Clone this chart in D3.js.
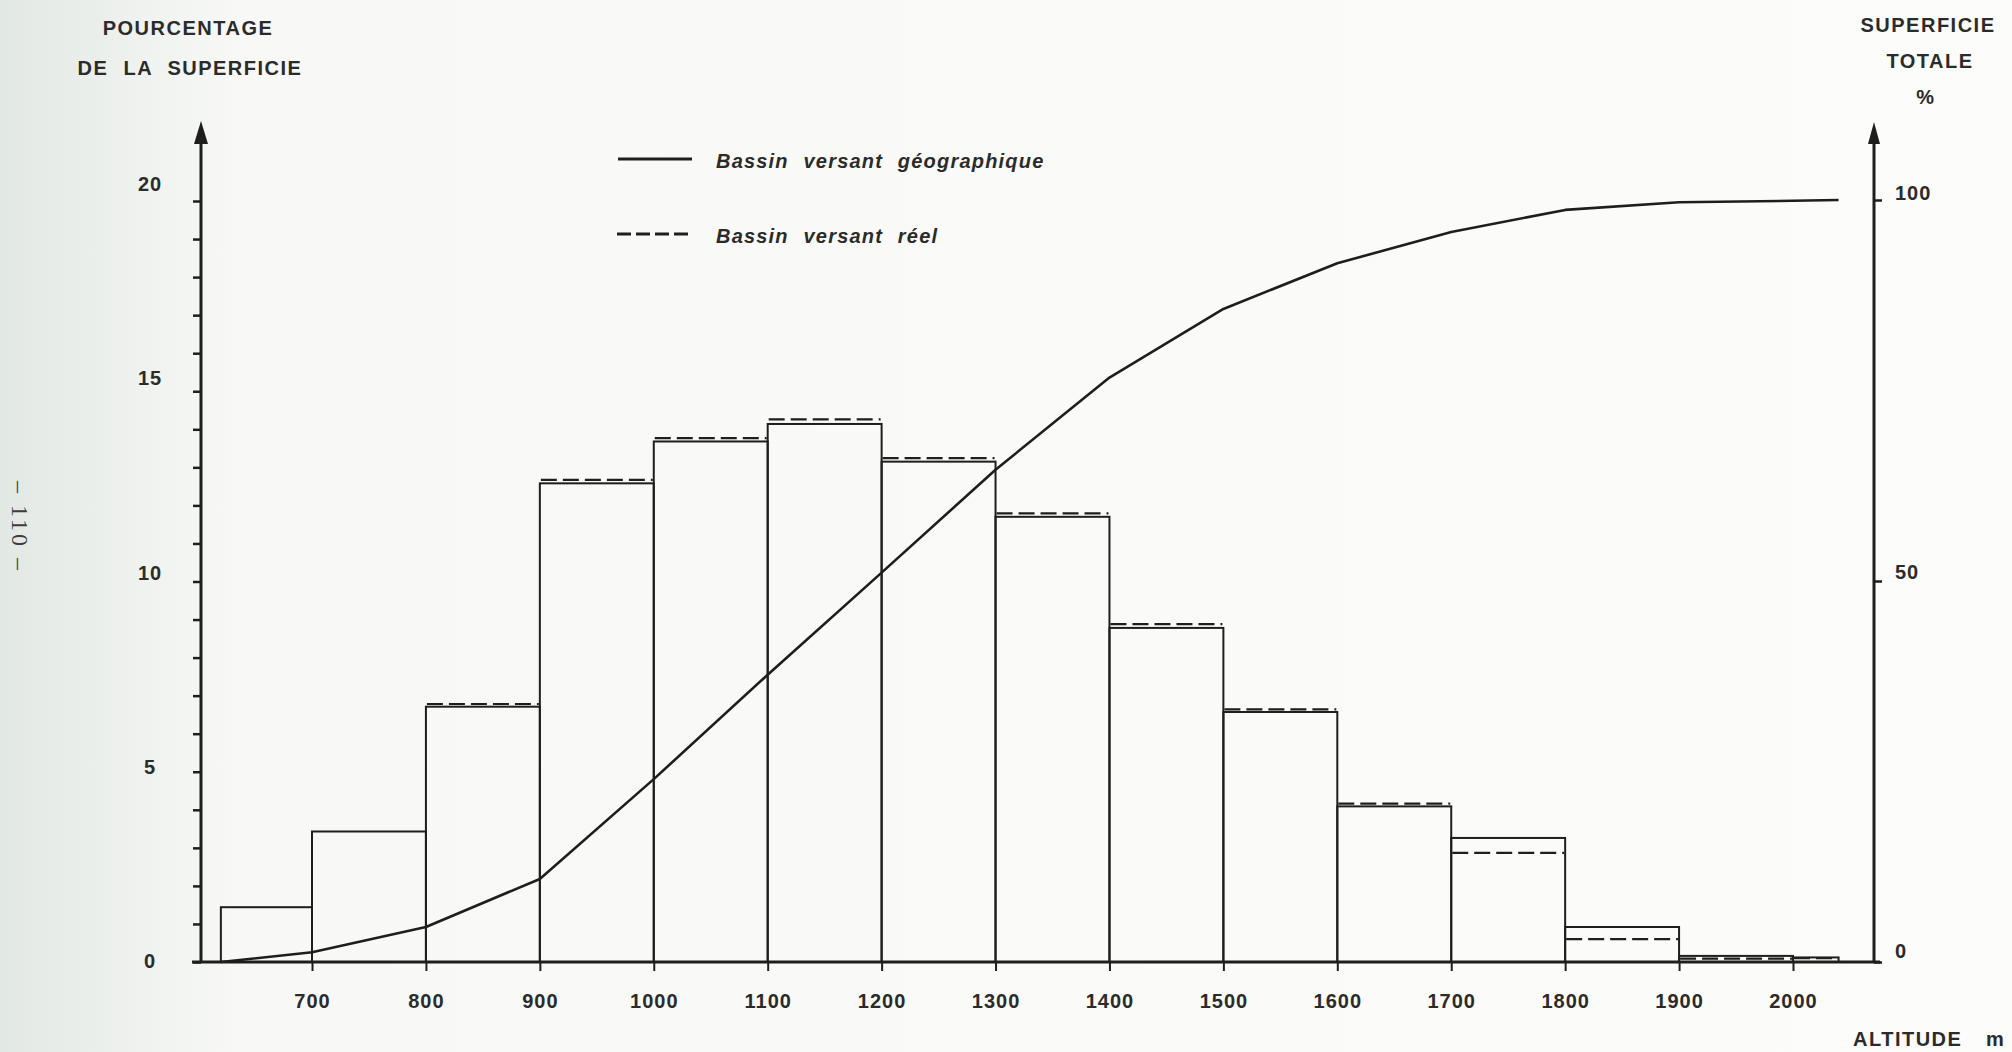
<!DOCTYPE html>
<html><head><meta charset="utf-8">
<script src="https://cdn.jsdelivr.net/npm/d3@7"></script>
<style>
html,body{margin:0;padding:0;background:#fbfbf9;}
svg{display:block;}
text{font-family:'Liberation Sans',Arial,sans-serif;font-weight:bold;fill:#2b2b2b;}
</style></head><body>
<svg id="chart" width="2012" height="1052"></svg>
<script>
// ---- data ----
const binStarts = [620, 700, 800, 900, 1000, 1100, 1200, 1300, 1400, 1500, 1600, 1700, 1800, 1900, 2000];
const binEnds   = [700, 800, 900, 1000, 1100, 1200, 1300, 1400, 1500, 1600, 1700, 1800, 1900, 2000, 2040];
const geoPct  = [1.44, 3.43, 6.71, 12.58, 13.68, 14.14, 13.15, 11.70, 8.78, 6.57, 4.09, 3.26, 0.92, 0.16, 0.12];
const reelPct = [1.44, 3.43, 6.78, 12.67, 13.77, 14.26, 13.24, 11.79, 8.88, 6.64, 4.16, 2.87, 0.60, 0.09, 0.10];
const cumAlt = [620, 700, 800, 900, 1000, 1100, 1200, 1300, 1400, 1500, 1600, 1700, 1800, 1900, 2000, 2040];
const cumPct = [0, 1.28, 4.6, 10.9, 24.0, 37.7, 51.1, 64.6, 76.7, 85.7, 91.7, 95.8, 98.7, 99.7, 99.9, 100];
const xTicks = [700, 800, 900, 1000, 1100, 1200, 1300, 1400, 1500, 1600, 1700, 1800, 1900, 2000];
const yLeftTicks = [0, 5, 10, 15, 20];
const yRightTicks = [0, 50, 100];
const legendLabels = ["Bassin versant géographique", "Bassin versant réel"];

// ---- scales ----
const x = d3.scaleLinear().domain([700, 2000]).range([312, 1793]);
const yL = d3.scaleLinear().domain([0, 20]).range([962, 201]);
const yR = d3.scaleLinear().domain([0, 100]).range([962, 200]);
const yLlab = d3.scaleLinear().domain([0, 20]).range([961, 184]);
const yRlab = d3.scaleLinear().domain([0, 100]).range([951, 193]);

const ink = "#1e1e1e";
const svg = d3.select("#chart");

// background shading of scanned page
const defs = svg.append("defs");
const g0 = defs.append("linearGradient").attr("id", "bg").attr("x1", "0").attr("x2", "1").attr("y1", "0").attr("y2", "0");
g0.append("stop").attr("offset", "0").attr("stop-color", "#e2e8e3");
g0.append("stop").attr("offset", "0.12").attr("stop-color", "#f8f9f7");
g0.append("stop").attr("offset", "1").attr("stop-color", "#fcfcfa");
svg.append("rect").attr("width", 2012).attr("height", 1052).attr("fill", "url(#bg)");

// page number
svg.append("text").attr("transform", "translate(12,527) rotate(90)")
  .attr("text-anchor", "middle")
  .style("font-family", "'Liberation Serif','DejaVu Serif',serif").style("font-weight", "normal")
  .style("font-size", "24px").style("fill", "#3c3c3c").style("letter-spacing", "3px")
  .text("– 110 –");

// bars (geographic, solid)
const bins = binStarts.map((s, i) => ({s, e: binEnds[i], g: geoPct[i], r: reelPct[i]}));
svg.append("g").selectAll("rect").data(bins).join("rect")
  .attr("x", d => x(d.s)).attr("width", d => x(d.e) - x(d.s))
  .attr("y", d => yL(d.g)).attr("height", d => yL(0) - yL(d.g))
  .attr("fill", "none").attr("stroke", ink).attr("stroke-width", 2);

// dashed tops (réel), only where they differ from the solid tops
svg.append("g").selectAll("line").data(bins.filter(d => d.r !== d.g)).join("line")
  .attr("x1", d => x(d.s) + 1).attr("x2", d => x(d.e) - 1)
  .attr("y1", d => yL(d.r)).attr("y2", d => yL(d.r))
  .attr("stroke", ink).attr("stroke-width", 2.2).attr("stroke-dasharray", "16,6");

// cumulative curve
const cum = cumAlt.map((a, i) => ({a, p: cumPct[i]}));
svg.append("path").datum(cum)
  .attr("d", d3.line().x(d => x(d.a)).y(d => yR(d.p)))
  .attr("fill", "none").attr("stroke", ink).attr("stroke-width", 2.6).attr("stroke-linejoin", "round");

// x axis
svg.append("line").attr("x1", 192).attr("x2", 1880).attr("y1", 962).attr("y2", 962)
  .attr("stroke", ink).attr("stroke-width", 3);
const xa = svg.append("g").attr("transform", "translate(0,962)")
  .call(d3.axisBottom(x).tickValues(xTicks).tickSize(9).tickFormat(d3.format("d")));
xa.select(".domain").remove();
xa.selectAll(".tick line").attr("stroke", ink).attr("stroke-width", 2);
xa.selectAll(".tick text").attr("y", 39).attr("dy", "0.35em")
  .style("font-size", "20px").style("letter-spacing", "1px").style("fill", "#2b2b2b")
  .style("font-family", "'Liberation Sans',Arial,sans-serif").style("font-weight", "bold");

// left axis
svg.append("line").attr("x1", 201).attr("x2", 201).attr("y1", 963).attr("y2", 135)
  .attr("stroke", ink).attr("stroke-width", 3);
svg.append("path").attr("d", "M201,121 L194,144 L208,144 Z").attr("fill", ink);
const la = svg.append("g").attr("transform", "translate(201,0)")
  .call(d3.axisLeft(yL).tickValues(d3.range(0, 21)).tickSize(8).tickFormat(""));
la.select(".domain").remove();
la.selectAll(".tick line").attr("stroke", ink).attr("stroke-width", 2.5);
svg.append("g").selectAll("text").data(yLeftTicks).join("text")
  .attr("x", 150).attr("y", d => yLlab(d)).attr("dy", "0.35em").attr("text-anchor", "middle")
  .style("font-size", "20px").style("letter-spacing", "1px").text(d => d);

// right axis
svg.append("line").attr("x1", 1874).attr("x2", 1874).attr("y1", 963).attr("y2", 135)
  .attr("stroke", ink).attr("stroke-width", 3);
svg.append("path").attr("d", "M1874,122 L1868,144 L1880,144 Z").attr("fill", ink);
const ra = svg.append("g").attr("transform", "translate(1874,0)")
  .call(d3.axisRight(yR).tickValues(yRightTicks).tickSize(8).tickFormat(""));
ra.select(".domain").remove();
ra.selectAll(".tick line").attr("stroke", ink).attr("stroke-width", 2.5);
svg.append("g").selectAll("text").data(yRightTicks).join("text")
  .attr("x", 1895).attr("y", d => yRlab(d)).attr("dy", "0.35em").attr("text-anchor", "start")
  .style("font-size", "20px").style("letter-spacing", "1px").text(d => d);

// axis titles
const title = (t, cx, cy, anchor) => svg.append("text").attr("x", cx).attr("y", cy).attr("dy", "0.35em")
  .attr("text-anchor", anchor || "middle").style("font-size", "20px").style("letter-spacing", "1.5px")
  .style("word-spacing", "8px").text(t);
title("POURCENTAGE", 188, 28);
title("DE LA SUPERFICIE", 190, 68);
title("SUPERFICIE", 1928, 25);
title("TOTALE", 1930, 61);
title("%", 1926, 97);
title("ALTITUDE", 1853, 1039, "start");
title("m", 1986, 1039, "start");

// legend
const leg = svg.append("g");
leg.append("line").attr("x1", 618).attr("x2", 692).attr("y1", 159).attr("y2", 159)
  .attr("stroke", ink).attr("stroke-width", 3);
leg.append("line").attr("x1", 617).attr("x2", 692).attr("y1", 234).attr("y2", 234)
  .attr("stroke", ink).attr("stroke-width", 3).attr("stroke-dasharray", "14,5");
leg.selectAll("text").data(legendLabels).join("text")
  .attr("x", 716).attr("y", (d, i) => i === 0 ? 161 : 236).attr("dy", "0.35em")
  .style("font-size", "20px").style("font-style", "italic").style("letter-spacing", "1.2px")
  .style("word-spacing", "8px").text(d => d);
</script>
</body></html>
